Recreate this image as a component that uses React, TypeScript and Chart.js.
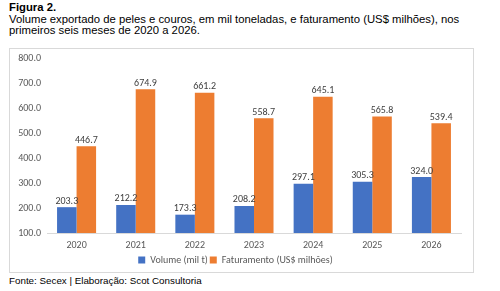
import React, { useEffect, useRef } from "react";
import { Chart, registerables } from "chart.js";

Chart.register(...registerables);

const categories = ["2020", "2021", "2022", "2023", "2024", "2025", "2026"];
const volume = [203.3, 212.2, 173.3, 208.2, 297.1, 305.3, 324.0];
const faturamento = [446.7, 674.9, 661.2, 558.7, 645.1, 565.8, 539.4];
const seriesNames = ["Volume (mil t)", "Faturamento (US$ milhões)"];
const yMin = 100;
const yMax = 800;
const yStep = 100;

const FONT = "Carlito, Lato, 'Liberation Sans', sans-serif";

const dataLabels = {
  id: "dataLabels",
  afterDatasetsDraw(chart: any) {
    const ctx = chart.ctx;
    ctx.save();
    ctx.font = `10px ${FONT}`;
    ctx.fillStyle = "#404040";
    ctx.textAlign = "center";
    ctx.textBaseline = "bottom";
    chart.data.datasets.forEach((ds: any, i: number) => {
      const meta = chart.getDatasetMeta(i);
      meta.data.forEach((el: any, j: number) => {
        ctx.fillText(Number(ds.data[j]).toFixed(1), el.x, el.y - 1);
      });
    });
    ctx.restore();
  },
};

export default function App() {
  const ref = useRef<HTMLCanvasElement>(null);
  useEffect(() => {
    document.body.style.margin = "0";
    const chart = new Chart(ref.current!, {
      type: "bar",
      data: {
        labels: categories,
        datasets: [
          { label: seriesNames[0], data: volume, backgroundColor: "#4472C4" },
          { label: seriesNames[1], data: faturamento, backgroundColor: "#ED7D31" },
        ],
      },
      plugins: [dataLabels],
      options: {
        animation: false,
        responsive: false,
        maintainAspectRatio: false,
        layout: { padding: { top: 1, right: 12, bottom: 0, left: 0 } },
        datasets: { bar: { categoryPercentage: 0.66, barPercentage: 1 } },
        plugins: {
          legend: {
            position: "bottom",
            labels: {
              boxWidth: 7,
              boxHeight: 7,
              padding: 2,
              color: "#595959",
              font: { family: FONT, size: 10 },
            },
          },
          tooltip: { enabled: false },
        },
        scales: {
          x: {
            grid: { display: false, drawTicks: false },
            border: { display: true, color: "#d9d9d9" },
            afterFit: (s: any) => { s.height = 20; },
            ticks: { color: "#595959", font: { family: FONT, size: 10 }, padding: 6 },
          },
          y: {
            min: yMin,
            max: yMax,
            grid: { display: false, drawTicks: false },
            border: { display: false },
            afterFit: (s: any) => { s.width = 37; },
            ticks: {
              stepSize: yStep,
              color: "#595959",
              font: { family: FONT, size: 10 },
              padding: 6,
              callback: (v: any) => Number(v).toFixed(1),
            },
          },
        },
      },
    });
    return () => chart.destroy();
  }, []);

  return (
    <div style={{ position: "relative", width: 500, height: 291, background: "#fff", fontFamily: "'Liberation Sans', Arial, sans-serif", color: "#000" }}>
      <div style={{ position: "absolute", left: 9, top: 2, fontSize: 11.3, lineHeight: "11.5px", whiteSpace: "nowrap" }}>
        <div style={{ fontWeight: "bold" }}>Figura 2.</div>
        <div>Volume exportado de peles e couros, em mil toneladas, e faturamento (US$ milhões), nos</div>
        <div>primeiros seis meses de 2020 a 2026.</div>
      </div>
      <div style={{ position: "absolute", left: 9, top: 48, width: 465, height: 225, boxSizing: "border-box", border: "1px solid #d9d9d9" }} />
      <canvas ref={ref} width={463} height={229} style={{ position: "absolute", left: 10, top: 46, display: "block" }} />
      <div style={{ position: "absolute", left: 9, top: 275, fontSize: 9.8, lineHeight: "12px", whiteSpace: "nowrap" }}>
        Fonte: Secex | Elaboração: Scot Consultoria
      </div>
    </div>
  );
}
